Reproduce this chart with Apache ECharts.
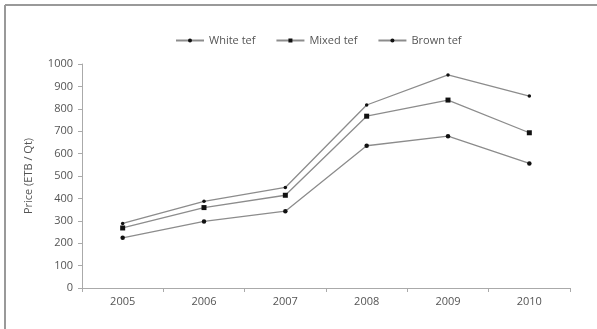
<!DOCTYPE html>
<html><head><meta charset="utf-8">
<script src="https://cdn.jsdelivr.net/npm/echarts@6/dist/echarts.min.js"></script>
<style>html,body{margin:0;padding:0;background:#fff}#c{width:597px;height:329px}</style>
</head><body><div id="c"></div>
<script>
const years = ['2005','2006','2007','2008','2009','2010'];
const whiteTef = [288, 387, 449, 817, 951, 857];
const mixedTef = [268, 359, 414, 767, 839, 693];
const brownTef = [224, 297, 343, 635, 678, 556];
const seriesNames = ['White tef','Mixed tef','Brown tef'];
const yTitle = 'Price (ETB / Qt)';

const chart = echarts.init(document.getElementById('c'), null, {renderer:'canvas'});
const font = 'Open Sans';
function mk(name, data, symbol, size){
  return {name, type:'line', data, symbol, symbolSize:size,
    lineStyle:{color:'#8c8c8c', width:1.3},
    itemStyle:{color:'#111', borderWidth:0},
    emphasis:{disabled:true}, animation:false};
}
chart.setOption({
  animation:false,
  graphic:[
    {type:'line', shape:{x1:5,y1:5,x2:597,y2:5}, style:{stroke:'#999', lineWidth:2}},
    {type:'line', shape:{x1:5,y1:5,x2:5,y2:329}, style:{stroke:'#999', lineWidth:2}}
  ],
  legend:{top:30, left:170, itemGap:20, itemWidth:28, itemHeight:5,
    textStyle:{fontFamily:font, fontSize:11, color:'#555'},
    data:seriesNames},
  grid:{left:82, right:27, top:64, bottom:41, containLabel:false},
  xAxis:{type:'category', data:years, boundaryGap:true,
    axisLine:{lineStyle:{color:'#aaa', width:1}},
    axisTick:{show:true, length:4, lineStyle:{color:'#aaa'}},
    axisLabel:{fontFamily:font, fontSize:11, color:'#555', margin:8}},
  yAxis:{type:'value', min:0, max:1000, interval:100,
    name:yTitle, nameLocation:'middle', nameGap:48,
    nameTextStyle:{fontFamily:font, fontSize:11, color:'#555'},
    axisLine:{show:true, lineStyle:{color:'#aaa', width:1}},
    axisTick:{show:true, length:4, lineStyle:{color:'#aaa'}},
    splitLine:{show:false},
    axisLabel:{fontFamily:font, fontSize:11, color:'#555', margin:9, formatter: v => String(v)}},
  series:[
    mk(seriesNames[0], whiteTef, 'circle', 3.5),
    mk(seriesNames[1], mixedTef, 'rect', 5),
    mk(seriesNames[2], brownTef, 'circle', 4.5)
  ]
});
</script></body></html>
